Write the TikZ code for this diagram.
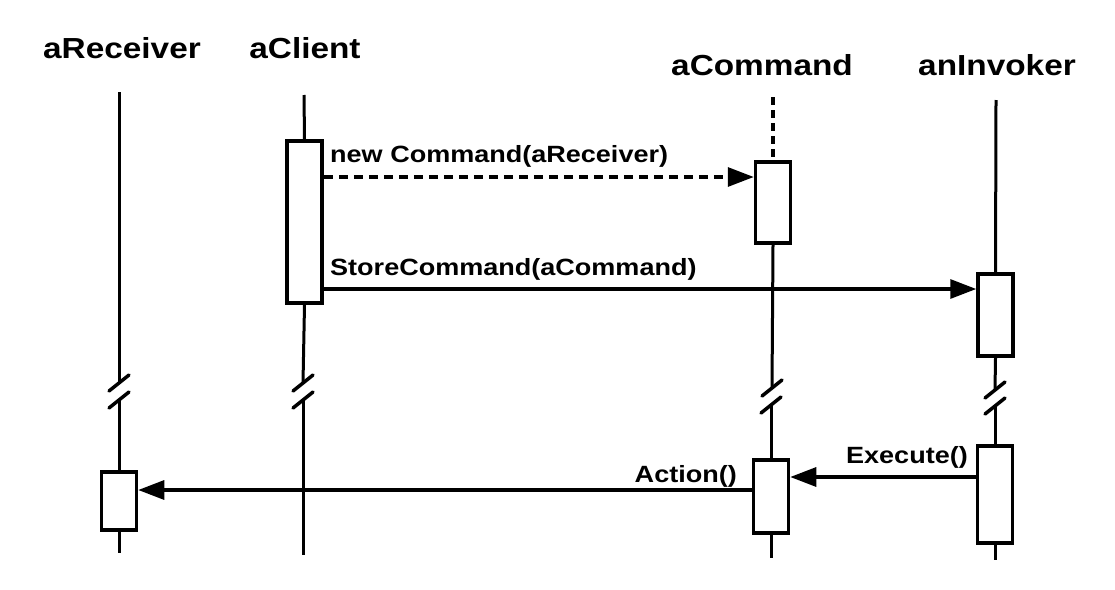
\documentclass[tikz,border=0pt]{standalone}
\usepackage{fontspec}
\setmainfont{Liberation Sans}[FakeStretch=1.15]
\usetikzlibrary{arrows.meta,calc}

\tikzset{
  objname/.style={font=\fontsize{29}{34}\selectfont\bfseries, inner sep=0pt, anchor=base},
  msglabel/.style={font=\fontsize{23.5}{28}\selectfont\bfseries, inner sep=0pt},
  life/.style={line width=3pt},
  dashedlife/.style={line width=3.5pt, dash pattern=on 8pt off 5pt},
  actbox/.style={draw, fill=white, line width=3.5pt, minimum width=35pt, inner sep=0pt},
  brk/.style={line width=3.5pt, line cap=round},
  msg/.style={line width=3.2pt, -{Triangle[length=26pt,width=19pt]}},
  createmsg/.style={msg, dash pattern=on 9pt off 6pt},
}

\begin{document}
\begin{tikzpicture}[x=1pt, y=-1pt]
  \useasboundingbox (0,0) rectangle (1115,589);

  % object names
  \node[objname] (tRcv) at (122,58) {aReceiver};
  \node[objname] (tCli) at (305,58) {aClient};
  \node[objname] (tCmd) at (762,75) {aCommand};
  \node[objname] (tInv) at (997,75) {anInvoker};

  % activation boxes
  \node[actbox, minimum height=58pt]  (rcv1) at (119,501) {};
  \node[actbox, minimum height=162pt] (cli1) at (304.5,222) {};
  \node[actbox, minimum height=81pt]  (cmd1) at (773,202.5) {};
  \node[actbox, minimum height=73pt]  (cmd2) at (771,496.5) {};
  \node[actbox, minimum height=82pt]  (inv1) at (995.5,315) {};
  \node[actbox, minimum height=97pt]  (inv2) at (995,494.5) {};

  % lifeline end points and breaks
  \coordinate (rcvTop) at (119,92);
  \coordinate (rcvA) at (119,383);
  \coordinate (rcvB) at (119,400);
  \coordinate (rcvEnd) at (119,553);

  \coordinate (cliTop) at (304,95);
  \coordinate (cliA) at (303,383);
  \coordinate (cliB) at (303,400);
  \coordinate (cliEnd) at (303,555);

  \coordinate (cmdTop) at (773,97);
  \coordinate (cmdA) at (772,388);
  \coordinate (cmdB) at (771,405);
  \coordinate (cmdEnd) at (771,558);

  \coordinate (invTop) at (996,100);
  \coordinate (invA) at (995,390);
  \coordinate (invB) at (995,406);
  \coordinate (invEnd) at (995,560);

  % aReceiver lifeline
  \draw[life] (rcvTop) -- (rcvA);
  \draw[life] (rcvB) -- (rcv1.north);
  \draw[life] (rcv1.south) -- (rcvEnd);

  % aClient lifeline
  \draw[life] (cliTop) -- (cli1.north);
  \draw[life] (cli1.south) -- (cliA);
  \draw[life] (cliB) -- (cliEnd);

  % aCommand lifeline (dashed before creation)
  \draw[dashedlife] (cmdTop) -- (cmd1.north);
  \draw[life] (cmd1.south) -- (cmdA);
  \draw[life] (cmdB) -- (cmd2.north);
  \draw[life] (cmd2.south) -- (cmdEnd);

  % anInvoker lifeline
  \draw[life] (invTop) -- (inv1.north);
  \draw[life] (inv1.south) -- (invA);
  \draw[life] (invB) -- (inv2.north);
  \draw[life] (inv2.south) -- (invEnd);

  % time-break marks
  \foreach \p in {rcvA,rcvB,cliA,cliB,cmdA,cmdB,invA,invB}
    \draw[brk] ($(\p)+(-10,8)$) -- ($(\p)+(10,-8)$);

  % message heights
  \coordinate (m1) at (0,177);
  \coordinate (m2) at (0,289);
  \coordinate (m3) at (0,477);
  \coordinate (m4) at (0,490);

  % messages
  \draw[createmsg] (cli1.east |- m1) -- (cmd1.west |- m1);
  \draw[msg] (cli1.east |- m2) -- (inv1.west |- m2);
  \draw[msg] (inv2.west |- m3) -- (cmd2.east |- m3);
  \draw[msg] (cmd2.west |- m4) -- (rcv1.east |- m4);

  % message labels
  \node[msglabel, anchor=base west] (l1) at (330,162) {new Command(aReceiver)};
  \node[msglabel, anchor=base west] (l2) at (330,275) {StoreCommand(aCommand)};
  \node[msglabel, anchor=base east] (l3) at (968,463) {Execute()};
  \node[msglabel, anchor=base east] (l4) at (737,482) {Action()};
\end{tikzpicture}
\end{document}
